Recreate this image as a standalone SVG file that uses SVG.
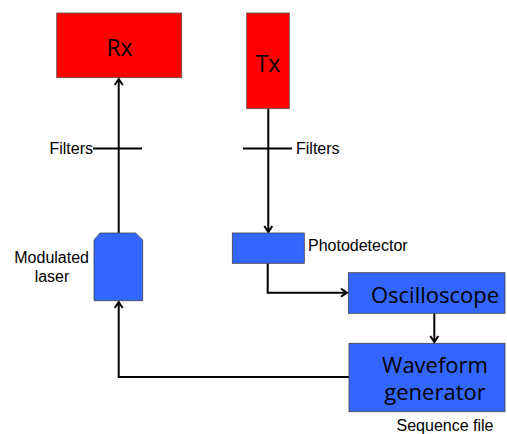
<svg xmlns="http://www.w3.org/2000/svg" width="507" height="434" viewBox="0 0 507 434">
  <style>
    .red { fill: #ff0000; stroke: #555; stroke-width: 0.8; }
    .blue { fill: #3366ff; stroke: #444; stroke-width: 0.8; }
    .wire { fill: none; stroke: #000; stroke-width: 2; }
    .lbl { font-family: "Liberation Sans", Arial, sans-serif; font-size: 16px; fill: #000; }
    .big { font-family: "Open Sans", "Liberation Sans", sans-serif; fill: #000; }
  </style>
  <defs>
    <marker id="arr" markerWidth="10" markerHeight="10" refX="8" refY="5" orient="auto" markerUnits="userSpaceOnUse">
      <path d="M2,1 L8,5 L2,9" fill="none" stroke="#000" stroke-width="2"/>
    </marker>
  </defs>
  <rect width="507" height="434" fill="#fff"/>

  <g id="connectors">
    <!-- laser up to Rx -->
    <line class="wire" x1="118.7" y1="233" x2="118.7" y2="79" marker-end="url(#arr)"/>
    <line class="wire" x1="93" y1="148.5" x2="142" y2="148.5"/>
    <!-- Tx down to photodetector -->
    <line class="wire" x1="268.3" y1="109" x2="268.3" y2="232" marker-end="url(#arr)"/>
    <line class="wire" x1="243" y1="148.5" x2="292" y2="148.5"/>
    <!-- photodetector to oscilloscope -->
    <polyline class="wire" points="267.7,263.3 267.7,292.7 347,292.7" marker-end="url(#arr)"/>
    <!-- oscilloscope to waveform generator -->
    <line class="wire" x1="434.3" y1="313.3" x2="434.3" y2="342" marker-end="url(#arr)"/>
    <!-- waveform generator to laser -->
    <polyline class="wire" points="349,377 118.7,377 118.7,302" marker-end="url(#arr)"/>
  </g>

  <g id="rx">
    <rect class="red" x="56.7" y="13" width="125" height="64.7"/>
    <text class="big" x="119.5" y="56" font-size="23" text-anchor="middle">Rx</text>
  </g>

  <g id="tx">
    <rect class="red" x="246.7" y="13" width="42.6" height="95.7"/>
    <text class="big" x="268" y="72" font-size="23" text-anchor="middle">Tx</text>
  </g>

  <g id="filters-rx">
    <text class="lbl" x="93" y="154" text-anchor="end">Filters</text>
  </g>

  <g id="filters-tx">
    <text class="lbl" x="296" y="154">Filters</text>
  </g>

  <g id="laser">
    <path class="blue" d="M100,233 L135.5,233 L142.7,240 L142.7,300.7 L94,300.7 L94,240 Z"/>
    <text class="lbl" x="89" y="263" text-anchor="end">Modulated</text>
    <text class="lbl" x="52" y="282" text-anchor="middle">laser</text>
  </g>

  <g id="photodetector">
    <rect class="blue" x="232.3" y="233" width="72" height="30.3"/>
    <text class="lbl" x="308" y="251">Photodetector</text>
  </g>

  <g id="oscilloscope">
    <rect class="blue" x="348.3" y="272.7" width="156.7" height="40.6"/>
    <text class="big" x="435" y="303" font-size="22" text-anchor="middle">Oscilloscope</text>
  </g>

  <g id="waveform">
    <rect class="blue" x="349" y="343.3" width="156" height="68.4"/>
    <text class="big" x="435" y="373" font-size="22" text-anchor="middle">Waveform</text>
    <text class="big" x="435" y="400" font-size="22" text-anchor="middle">generator</text>
  </g>

  <g id="sequence">
    <text class="lbl" x="445" y="431" font-size="14" text-anchor="middle">Sequence file</text>
  </g>
</svg>
